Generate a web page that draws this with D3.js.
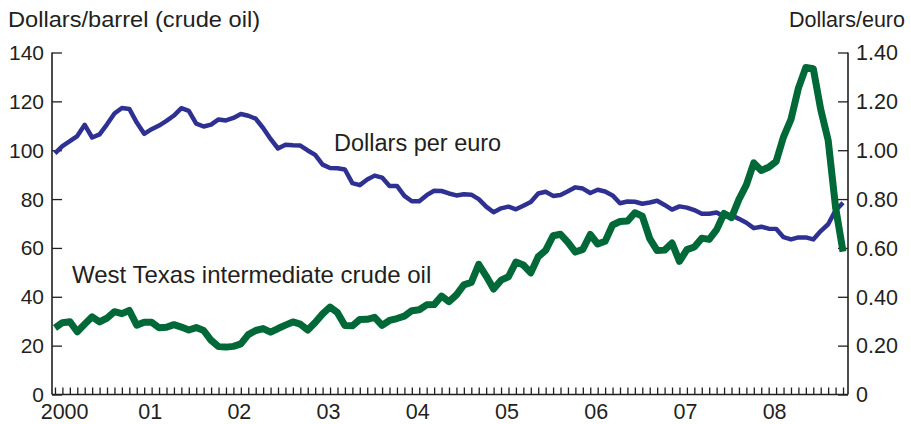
<!DOCTYPE html>
<html>
<head>
<meta charset="utf-8">
<script src="https://cdn.jsdelivr.net/npm/d3@7"></script>
<style>
  body { margin: 0; background: #fff; }
  svg { display: block; font-family: "Liberation Sans", Arial, sans-serif; }
</style>
</head>
<body>
<div id="chart"></div>
<script>
// monthly, Jan 2000 .. Nov 2008
const oilPrice = [
    27.3, 29.4, 29.8, 25.7, 28.8, 31.8, 29.7, 31.3, 33.9, 33.1, 34.4, 28.4,
    29.6, 29.6, 27.3, 27.5, 28.6, 27.6, 26.4, 27.4, 26.2, 22.2, 19.6, 19.4,
    19.7, 20.7, 24.5, 26.2, 27.0, 25.5, 27.0, 28.4, 29.7, 28.8, 26.4, 29.5,
    33.0, 35.8, 33.5, 28.2, 28.1, 30.7, 30.8, 31.6, 28.3, 30.3, 31.1, 32.1,
    34.3, 34.7, 36.7, 36.8, 40.3, 38.0, 40.8, 44.9, 45.9, 53.3, 48.5, 43.2,
    46.8, 48.2, 54.2, 53.0, 49.8, 56.4, 59.0, 65.0, 65.6, 62.3, 58.3, 59.4,
    65.5, 61.6, 62.7, 69.4, 70.8, 71.0, 74.4, 73.0, 63.8, 58.9, 59.1, 62.0,
    54.5, 59.3, 60.4, 64.0, 63.5, 67.5, 74.1, 72.4, 79.9, 85.8, 94.8, 91.7,
    93.0, 95.4, 105.5, 112.6, 125.4, 133.9, 133.4, 116.7, 104.1, 76.6, 58.5
];
const dollarsPerEuro = [
    0.987, 1.017, 1.037, 1.058, 1.104, 1.052, 1.065, 1.106, 1.150, 1.173, 1.169, 1.113,
    1.067, 1.086, 1.101, 1.120, 1.142, 1.172, 1.161, 1.109, 1.097, 1.105, 1.126, 1.122,
    1.132, 1.148, 1.141, 1.129, 1.091, 1.046, 1.007, 1.022, 1.020, 1.019, 0.999, 0.981,
    0.941, 0.927, 0.926, 0.921, 0.865, 0.857, 0.880, 0.896, 0.888, 0.854, 0.854, 0.813,
    0.791, 0.791, 0.816, 0.834, 0.833, 0.823, 0.815, 0.820, 0.818, 0.800, 0.769, 0.746,
    0.762, 0.769, 0.758, 0.773, 0.788, 0.823, 0.830, 0.813, 0.817, 0.832, 0.848, 0.843,
    0.825, 0.838, 0.831, 0.815, 0.783, 0.790, 0.789, 0.781, 0.786, 0.793, 0.776, 0.757,
    0.770, 0.765, 0.755, 0.740, 0.740, 0.745, 0.729, 0.734, 0.719, 0.703, 0.681, 0.687,
    0.679, 0.678, 0.644, 0.635, 0.643, 0.643, 0.635, 0.669, 0.697, 0.754, 0.785
];
const yearLabels = ['2000', '01', '02', '03', '04', '05', '06', '07', '08'];
const leftTicks = [0, 20, 40, 60, 80, 100, 120, 140];
const rightTicks = [0, 0.2, 0.4, 0.6, 0.8, 1.0, 1.2, 1.4];

const width = 911, height = 424;
const plot = { left: 52, right: 848, top: 52.5, bottom: 394.5 };
const axisColor = '#231f20';
const textColor = '#231f20';

const svg = d3.select('#chart').append('svg')
    .attr('width', width)
    .attr('height', height);

const x = d3.scaleLinear()
    .domain([-0.4, 106.67])
    .range([plot.left, plot.right]);
const yLeft = d3.scaleLinear()
    .domain([0, 140])
    .range([plot.bottom, plot.top]);
const yRight = d3.scaleLinear()
    .domain([0, 1.4])
    .range([plot.bottom, plot.top]);

// left axis, ticks pointing in
const leftAxis = svg.append('g')
    .attr('transform', `translate(${plot.left},0)`)
    .call(d3.axisRight(yLeft).tickValues(leftTicks).tickSize(10).tickFormat(''));
svg.append('g').selectAll('text')
    .data(leftTicks)
    .enter().append('text')
        .attr('x', 44)
        .attr('y', d => yLeft(d))
        .attr('dy', '0.36em')
        .attr('text-anchor', 'end')
        .attr('font-size', 21)
        .attr('fill', textColor)
        .text(d => d);

// right axis, ticks pointing in
const rightAxis = svg.append('g')
    .attr('transform', `translate(${plot.right},0)`)
    .call(d3.axisLeft(yRight).tickValues(rightTicks).tickSize(10).tickFormat(''));
svg.append('g').selectAll('text')
    .data(rightTicks)
    .enter().append('text')
        .attr('x', 856)
        .attr('y', d => yRight(d))
        .attr('dy', '0.36em')
        .attr('font-size', 21.5)
        .attr('fill', textColor)
        .text(d => d === 0 ? '0' : d3.format('.2f')(d));

// bottom axis with monthly ticks pointing up
const bottomAxis = svg.append('g')
    .attr('transform', `translate(0,${plot.bottom})`)
    .call(d3.axisTop(x).tickValues(d3.range(oilPrice.length)).tickSize(7).tickFormat(''));

[leftAxis, rightAxis, bottomAxis].forEach(g => {
    g.select('.domain').attr('stroke', axisColor).attr('stroke-width', 1.6);
    g.selectAll('.tick line').attr('stroke', axisColor).attr('stroke-width', 1.3);
});
leftAxis.select('.domain').attr('d', `M0,${plot.top}V${plot.bottom}`);
rightAxis.select('.domain').attr('d', `M0,${plot.top}V${plot.bottom}`);
bottomAxis.select('.domain').attr('d', `M${plot.left},0H${plot.right}`);

// year labels
svg.append('g').selectAll('text')
    .data(yearLabels)
    .enter().append('text')
        .attr('x', (d, i) => x(i * 12 + (i === 0 ? 1.3 : 0.8)))
        .attr('y', 418.5)
        .attr('text-anchor', 'middle')
        .attr('font-size', 21.5)
        .attr('fill', textColor)
        .text(d => d);

// axis titles
svg.append('text')
    .attr('x', 8).attr('y', 27)
    .attr('font-size', 21.5)
    .attr('textLength', 252)
    .attr('lengthAdjust', 'spacingAndGlyphs')
    .attr('fill', textColor)
    .text('Dollars/barrel (crude oil)');
svg.append('text')
    .attr('x', 905).attr('y', 27)
    .attr('text-anchor', 'end')
    .attr('font-size', 21.5)
    .attr('fill', textColor)
    .text('Dollars/euro');

// lines
const euroLine = d3.line()
    .x((d, i) => x(i))
    .y(d => yRight(d));
const oilLine = d3.line()
    .x((d, i) => x(i))
    .y(d => yLeft(d));

svg.append('path')
    .datum(dollarsPerEuro)
    .attr('fill', 'none')
    .attr('stroke', '#2e3192')
    .attr('stroke-width', 4.5)
    .attr('stroke-linejoin', 'round')
    .attr('d', euroLine);

svg.append('path')
    .datum(oilPrice)
    .attr('fill', 'none')
    .attr('stroke', '#006937')
    .attr('stroke-width', 7)
    .attr('stroke-linejoin', 'round')
    .attr('d', oilLine);

// line labels
svg.append('text')
    .attr('x', 334).attr('y', 151)
    .attr('font-size', 23.5)
    .attr('fill', textColor)
    .text('Dollars per euro');
svg.append('text')
    .attr('x', 72).attr('y', 283)
    .attr('font-size', 24)
    .attr('fill', textColor)
    .text('West Texas intermediate crude oil');
</script>
</body>
</html>
